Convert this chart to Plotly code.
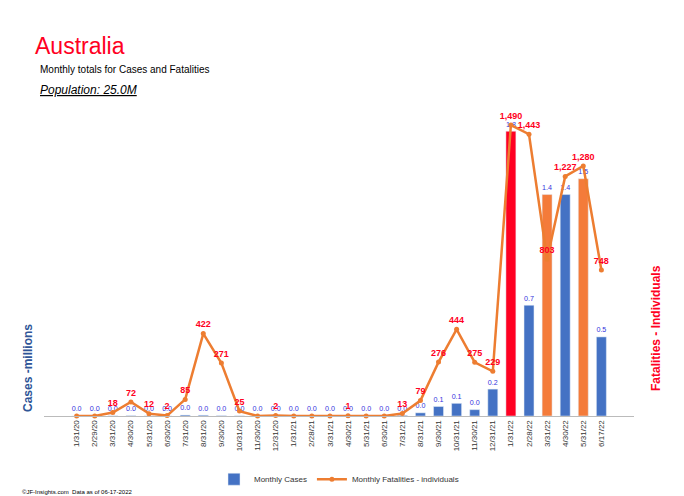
import plotly.graph_objects as go

dates = ["1/31/20","2/29/20","3/31/20","4/30/20","5/31/20","6/30/20","7/31/20","8/31/20","9/30/20","10/31/20",
         "11/30/20","12/31/20","1/31/21","2/28/21","3/31/21","4/30/21","5/31/21","6/30/21","7/31/21","8/31/21",
         "9/30/21","10/31/21","11/30/21","12/31/21","1/31/22","2/28/22","3/31/22","4/30/22","5/31/22","6/17/22"]
cases = [0.0,0.0,0.001,0.002,0.0005,0.0003,0.006,0.005,0.002,0.001,
         0.0,0.0,0.0,0.0,0.0,0.0,0.0,0.0,0.004,0.02,
         0.06,0.08,0.04,0.17,1.8,0.7,1.4,1.4,1.5,0.5]
case_labels = ["0.0"]*20 + ["0.1","0.1","0.0","0.2","1.8","0.7","1.4","1.4","1.5","0.5"]
fatalities = [0,0,18,72,12,2,85,422,271,25,0,2,0,0,0,1,0,0,13,79,276,444,275,229,1490,1443,803,1227,1280,748]

bar_colors = ["#4472C4"]*30
bar_colors[24] = "#FF0022"
bar_colors[26] = "#F47B3A"
bar_colors[28] = "#F47B3A"

fig = go.Figure()
fig.add_trace(go.Bar(x=dates, y=cases, marker_color=bar_colors, width=0.55, name="Monthly Cases",
                     text=case_labels, textposition="outside", cliponaxis=False,
                     textfont=dict(color="#3333DD", size=9)))
fig.add_trace(go.Scatter(x=dates, y=fatalities, yaxis="y2", mode="lines+markers+text",
                         name="Monthly Fatalities - individuals",
                         line=dict(color="#ED7D31", width=2.5), marker=dict(size=5, color="#ED7D31"),
                         text=[f"<b>{v:,}</b>" if v != 0 else "" for v in fatalities], textposition="top center",
                         textfont=dict(color="#FF0022", size=9), cliponaxis=False))
fig.update_layout(
    width=684, height=496, plot_bgcolor="white", paper_bgcolor="white",
    margin=dict(l=36, r=58, t=60, b=88, autoexpand=False),
    font=dict(family="Liberation Sans", size=9, color="#333"),
    xaxis=dict(tickangle=-90, tickfont=dict(size=8), showline=True, linecolor="#BBBBBB", type="category", automargin=False),
    yaxis=dict(range=[0, 2.2], visible=False),
    yaxis2=dict(range=[0, 1782], overlaying="y", side="right", visible=False),
    legend=dict(orientation="h", x=0.5, xanchor="center", y=-0.14, yanchor="top", font=dict(size=8)),
    showlegend=True,
    annotations=[
        dict(text="Australia", x=0, y=0, showarrow=False, font=dict(size=23, color="#FF0022")),
        dict(text="Monthly totals for Cases and Fatalities", x=0, y=0, showarrow=False, font=dict(size=10, color="black")),
        dict(text="<i><u>Population: 25.0M</u></i>", x=0, y=0, showarrow=False, font=dict(size=12, color="black")),
        dict(text="<b>Cases -millions</b>", x=0, y=0, showarrow=False, textangle=-90, font=dict(size=12, color="#2F5597")),
        dict(text="<b>Fatalities - Individuals</b>", x=0, y=0, showarrow=False, textangle=-90, font=dict(size=12, color="#FF0022")),
        dict(text="©JF-Insights.com  Data as of 06-17-2022", x=0, y=0, showarrow=False, font=dict(size=6, color="black")),
    ])
W, H = 684, 496
l, r, t, b = 36, 58, 60, 88
pw, ph = W - l - r, H - t - b
def px(x): return (x - l) / pw
def py(y): return (H - b - y) / ph
pos = [(25, 38, "left"), (30, 61, "left"), (30, 82, "left"), (20, 360, "center"), (648, 320, "center"), (12, 484, "left")]
anns = list(fig.layout.annotations)
for a, (x, y, xa) in zip(anns, pos):
    a.update(x=px(x), y=py(y), xref="paper", yref="paper", xanchor=xa, yanchor="middle")
fig.layout.annotations = anns
fig.write_html("out.html")
